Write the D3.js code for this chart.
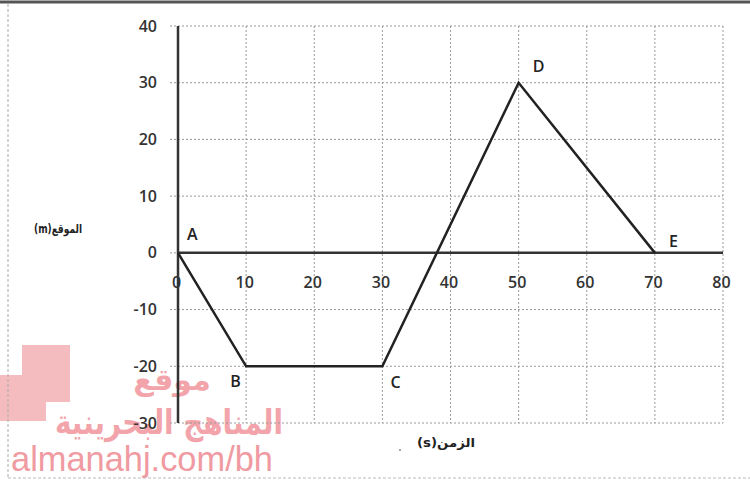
<!DOCTYPE html>
<html>
<head>
<meta charset="utf-8">
<script src="https://cdn.jsdelivr.net/npm/d3@7"></script>
<style>
  html, body { margin: 0; padding: 0; background: #fff; }
  svg { display: block; }
</style>
</head>
<body>
<svg id="chart" width="750" height="485"></svg>
<script>
// ---- data ----
const pointNames = ["A", "B", "C", "D", "E"];
const timeValues = [0, 10, 30, 50, 70];
const positionValues = [0, -20, -20, 30, 0];
const xTicks = [0, 10, 20, 30, 40, 50, 60, 70, 80];
const yTicks = [-30, -20, -10, 0, 10, 20, 30, 40];
const yTitle = "الموقع(m)";
const xTitle = "الزمن(s)";

const svg = d3.select("#chart");
const W = 750, H = 485;
const pLeft = 178, pRight = 723, pTop = 26, pBottom = 423;

const x = d3.scaleLinear().domain([0, 80]).range([pLeft, pRight]);
const y = d3.scaleLinear().domain([-30, 40]).range([pBottom, pTop]);

// ---- watermark (behind) ----
const wm = svg.append("g");
wm.append("rect").attr("x", 22).attr("y", 345).attr("width", 48).attr("height", 57).attr("fill", "#f5bcc0");
wm.append("rect").attr("x", 0).attr("y", 375).attr("width", 46).attr("height", 46).attr("fill", "#f5bcc0");
wm.append("text").attr("x", 172).attr("y", 390).attr("text-anchor", "middle")
  .attr("font-family", "DejaVu Sans").attr("font-weight", "bold").attr("font-size", 30)
  .attr("fill", "#f2a4aa").attr("direction", "rtl").text("موقع");
wm.append("text").attr("x", 55).attr("y", 434)
  .attr("font-family", "DejaVu Sans").attr("font-weight", "bold").attr("font-size", 34)
  .attr("textLength", 228).attr("lengthAdjust", "spacingAndGlyphs")
  .attr("fill", "#f2a4aa").attr("direction", "rtl").attr("text-anchor", "end").text("المناهج البحرينية");
wm.append("text").attr("x", 11).attr("y", 471)
  .attr("font-family", "Liberation Sans").attr("font-size", 35)
  .attr("textLength", 262).attr("lengthAdjust", "spacingAndGlyphs")
  .attr("fill", "#f09aa2").text("almanahj.com/bh");

// ---- outer frame ----
svg.append("line").attr("x1", 0).attr("x2", W).attr("y1", 2).attr("y2", 2)
  .attr("stroke", "#555").attr("stroke-width", 3);
svg.append("line").attr("x1", 8).attr("x2", 8).attr("y1", 4).attr("y2", 478)
  .attr("stroke", "#aaa").attr("stroke-width", 1).attr("stroke-dasharray", "3,2");
svg.append("line").attr("x1", 8).attr("x2", W).attr("y1", 478).attr("y2", 478)
  .attr("stroke", "#bbb").attr("stroke-width", 1).attr("stroke-dasharray", "3,2");

// ---- grid ----
const grid = svg.append("g").attr("stroke", "#9a9a9a").attr("stroke-width", 1).attr("stroke-dasharray", "2,2");
grid.selectAll("line.h").data(yTicks).join("line").attr("class", "h")
  .attr("x1", pLeft - 8).attr("x2", pRight).attr("y1", d => y(d)).attr("y2", d => y(d));
grid.selectAll("line.v").data(xTicks).join("line").attr("class", "v")
  .attr("x1", d => x(d)).attr("x2", d => x(d)).attr("y1", pTop).attr("y2", pBottom);

// ---- axes labels via d3 axes ----
const yAxis = svg.append("g").attr("transform", `translate(${pLeft},0)`)
  .call(d3.axisLeft(y).tickValues(yTicks).tickSize(0).tickPadding(21).tickFormat(d => String(d)));
const xAxis = svg.append("g").attr("transform", `translate(0,${y(0)})`)
  .call(d3.axisBottom(x).tickValues(xTicks).tickSize(0).tickPadding(24).tickFormat(d => String(d)));
[yAxis, xAxis].forEach(g => {
  g.select(".domain").remove();
  g.selectAll("text").attr("font-family", "Open Sans").attr("font-weight", 600)
    .attr("font-size", 16).attr("fill", "#333");
});
xAxis.selectAll(".tick text").attr("dx", -2);

// ---- main axis lines ----
svg.append("line").attr("x1", x(0)).attr("x2", x(80)).attr("y1", y(0)).attr("y2", y(0))
  .attr("stroke", "#333").attr("stroke-width", 2.5);
svg.append("line").attr("x1", x(0)).attr("x2", x(0)).attr("y1", y(40)).attr("y2", y(-30))
  .attr("stroke", "#333").attr("stroke-width", 2.5);

// ---- data line ----
const pts = timeValues.map((t, i) => ({ t, p: positionValues[i], n: pointNames[i] }));
svg.append("path").datum(pts)
  .attr("d", d3.line().x(d => x(d.t)).y(d => y(d.p)))
  .attr("fill", "none").attr("stroke", "#222").attr("stroke-width", 2.5).attr("stroke-linejoin", "miter");

// ---- point labels ----
const labelOffset = { A: [9, -13], B: [-16, 21], C: [8, 22], D: [14, -11], E: [14, -6] };
svg.selectAll("text.pl").data(pts).join("text").attr("class", "pl")
  .attr("x", d => x(d.t) + labelOffset[d.n][0])
  .attr("y", d => y(d.p) + labelOffset[d.n][1])
  .attr("font-family", "Open Sans").attr("font-weight", 600).attr("font-size", 16)
  .attr("fill", "#222").text(d => d.n);

// ---- axis titles ----
svg.append("text").attr("x", 82).attr("y", 233).attr("direction", "rtl")
  .attr("font-family", "DejaVu Sans").attr("font-weight", "bold").attr("font-size", 12)
  .attr("textLength", 48).attr("lengthAdjust", "spacingAndGlyphs")
  .attr("fill", "#222").text(yTitle);
svg.append("text").attr("x", 475).attr("y", 447).attr("direction", "rtl")
  .attr("font-family", "DejaVu Sans").attr("font-weight", "bold").attr("font-size", 12)
  .attr("textLength", 58).attr("lengthAdjust", "spacingAndGlyphs")
  .attr("fill", "#222").text(xTitle);
svg.append("circle").attr("cx", 400).attr("cy", 450).attr("r", 1).attr("fill", "#888");
</script>
</body>
</html>
